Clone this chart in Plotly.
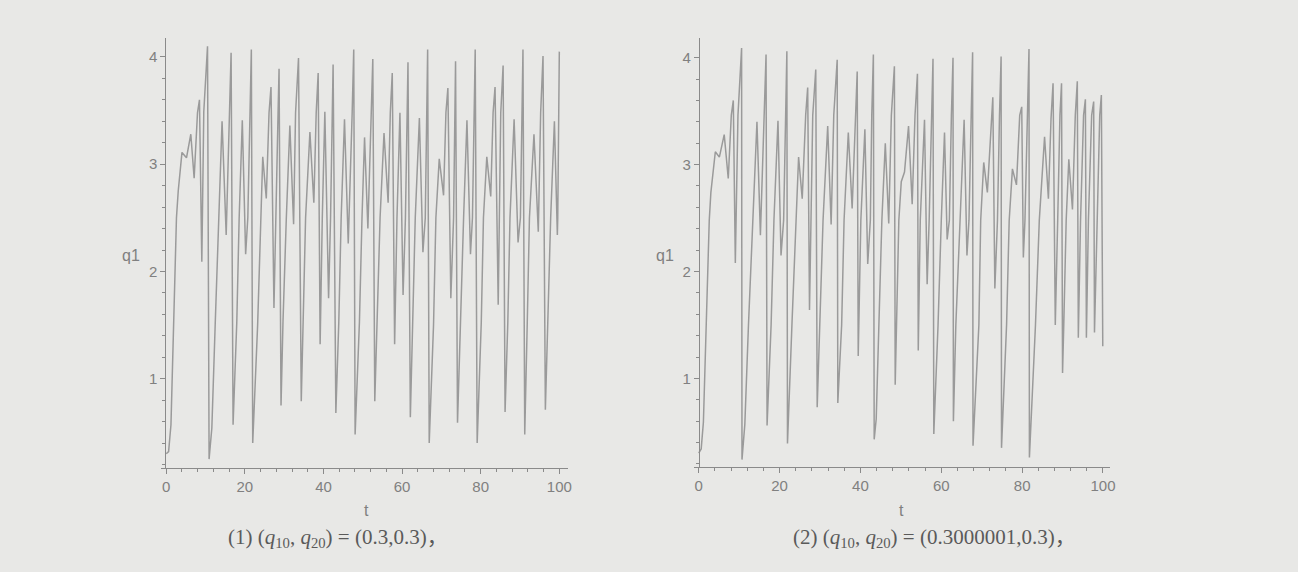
import plotly.graph_objects as go

# ---- data (t, q1) ----
t_left = [0.0, 0.6, 1.2, 1.8, 2.6, 3.05, 4.0, 5.15, 6.25, 7.1, 7.95, 8.45, 9.05, 9.55, 10.5, 10.9, 11.6, 12.45,
          13.45, 14.2, 15.25, 16.0, 16.5, 17.0, 17.95, 18.55, 19.35, 20.2, 20.75, 21.65, 22.0, 23.25, 24.55,
          25.45, 26.15, 26.65, 27.4, 28.45, 28.7, 29.2, 29.7, 30.55, 31.45, 32.4, 32.9, 33.65, 34.35, 35.45,
          36.55, 37.55, 38.15, 38.65, 39.15, 39.7, 40.35, 41.3, 41.8, 42.45, 43.15, 43.9, 44.5, 45.35, 46.3,
          47.3, 47.7, 48.05, 49.15, 49.8, 50.45, 51.3, 52.2, 52.55, 53.05, 53.65, 54.4, 55.4, 56.45, 57.0,
          57.5, 58.1, 58.7, 59.45, 60.25, 60.85, 61.5, 62.1, 62.7, 63.35, 64.4, 65.3, 65.9, 66.5, 66.9, 68.0,
          68.6, 69.45, 70.55, 71.15, 71.65, 72.4, 73.1, 73.6, 74.1, 74.8, 75.65, 76.5, 77.4, 77.9, 78.6, 79.1,
          80.15, 80.7, 81.55, 82.55, 83.15, 83.65, 84.45, 85.1, 85.7, 86.2, 86.9, 87.45, 88.5, 89.5, 90.1,
          90.75, 91.2, 91.85, 92.4, 93.55, 94.65, 95.25, 95.85, 96.45, 97.05, 97.8, 98.75, 99.5, 99.6, 100.0]
q_left = [0.30, 0.32, 0.57, 1.50, 2.50, 2.75, 3.11, 3.06, 3.28, 2.87, 3.48, 3.60, 2.09, 3.49, 4.10, 0.25, 0.54, 1.50,
          2.50, 3.40, 2.34, 3.48, 4.04, 0.57, 1.53, 2.50, 3.41, 2.16, 2.50, 4.07, 0.40, 1.50, 3.07,
          2.68, 3.48, 3.72, 1.66, 3.48, 3.89, 0.75, 1.53, 2.50, 3.36, 2.44, 3.48, 3.99, 0.79, 2.50,
          3.30, 2.64, 3.48, 3.85, 1.32, 2.50, 3.49, 1.75, 2.50, 3.93, 0.68, 1.53, 2.50, 3.42, 2.26,
          3.48, 4.07, 0.48, 1.53, 2.50, 3.25, 2.40, 3.48, 3.98, 0.79, 1.53, 2.50, 3.29, 2.64, 3.48,
          3.85, 1.32, 2.50, 3.48, 1.78, 2.50, 3.95, 0.64, 1.53, 2.50, 3.43, 2.18, 2.50, 4.07, 0.40, 1.50,
          2.50, 3.05, 2.71, 3.48, 3.71, 1.75, 2.50, 3.96, 0.59, 1.53, 2.50, 3.41, 2.16, 2.50, 4.07, 0.40,
          1.53, 2.50, 3.07, 2.70, 3.48, 3.72, 1.69, 3.48, 3.92, 0.69, 1.53, 2.50, 3.42, 2.27, 2.50,
          4.07, 0.48, 1.53, 2.50, 3.28, 2.37, 3.48, 4.01, 0.71, 1.53, 2.50, 3.40, 2.34, 2.50, 4.05]

t_right = [0.0, 0.6, 1.15, 1.85, 2.6, 3.0, 4.1, 5.1, 6.3, 7.3, 8.05, 8.55, 9.05, 9.7, 10.6, 10.7, 11.4, 12.3, 13.3,
           14.4, 15.25, 16.15, 16.65, 16.9, 17.9, 18.6, 19.6, 20.35, 21.0, 21.8, 21.95, 23.05, 24.7, 25.6,
           26.45, 26.95, 27.4, 28.2, 28.95, 29.3, 30.0, 30.75, 31.9, 32.75, 33.4, 34.25, 34.4, 35.35, 35.95,
           37.0, 37.95, 38.8, 39.2, 39.45, 40.1, 41.1, 41.8, 42.45, 42.8, 43.2, 43.4, 43.9, 44.55, 45.3,
           46.15, 47.0, 47.65, 48.4, 48.6, 48.9, 49.5, 50.1, 50.9, 51.9, 52.8, 53.5, 54.1, 54.3, 54.8,
           55.85, 56.5, 57.0, 57.55, 57.95, 58.15, 59.2, 60.0, 60.8, 61.45, 62.0, 62.5, 62.9, 63.0, 63.6,
           64.65, 65.65, 66.35, 66.85, 67.4, 67.75, 67.85, 69.3, 69.75, 70.5, 71.4, 72.35, 72.75, 73.25,
           73.9, 74.4, 74.8, 74.9, 76.15, 76.8, 77.6, 78.6, 79.4, 79.9, 80.3, 80.7, 81.25, 81.7, 81.8,
           83.3, 84.25, 85.55, 86.5, 87.15, 87.65, 88.2, 88.8, 89.35, 89.75, 90.0, 90.3, 90.9, 91.55,
           92.45, 93.15, 93.65, 93.9, 94.45, 95.2, 95.65, 95.9, 96.4, 97.2, 97.7, 97.9, 98.5, 99.2, 99.6, 99.95]
q_right = [0.30, 0.34, 0.59, 1.50, 2.48, 2.74, 3.12, 3.07, 3.28, 2.87, 3.46, 3.60, 2.08, 3.46, 4.09, 0.24, 0.57, 1.50, 2.48,
           3.40, 2.34, 3.46, 4.03, 0.56, 1.50, 2.48, 3.41, 2.15, 2.48, 4.06, 0.39, 1.50, 3.07, 2.68,
           3.46, 3.72, 1.64, 3.46, 3.89, 0.73, 1.50, 2.48, 3.36, 2.44, 3.46, 3.98, 0.77, 1.50, 2.48,
           3.30, 2.59, 3.46, 3.87, 1.21, 2.48, 3.33, 2.07, 2.48, 3.46, 4.03, 0.43, 0.62, 1.50, 2.48,
           3.20, 2.45, 3.46, 3.92, 0.94, 1.50, 2.48, 2.84, 2.93, 3.36, 2.63, 3.46, 3.85, 1.26, 2.48,
           3.42, 1.88, 2.48, 3.46, 3.99, 0.48, 1.50, 2.48, 3.30, 2.30, 2.48, 3.46, 4.00, 0.60, 1.50,
           2.48, 3.42, 2.15, 2.48, 3.46, 4.05, 0.37, 1.50, 2.48, 3.02, 2.74, 3.46, 3.63, 1.84,
           2.48, 3.46, 4.01, 0.35, 1.50, 2.48, 2.96, 2.81, 3.46, 3.54, 2.13, 2.48, 3.46, 4.08, 0.26,
           1.50, 2.48, 3.26, 2.68, 3.43, 3.76, 1.50, 2.48, 3.46, 3.76, 1.05, 1.50, 2.48, 3.05,
           2.58, 3.46, 3.78, 1.38, 2.48, 3.46, 3.61, 1.38, 2.48, 3.46, 3.59, 1.43, 2.48, 3.46, 3.65, 1.30]

x_ticks = [0, 20, 40, 60, 80, 100]
y_ticks = [1, 2, 3, 4]
caption_left = "(1) (<i>q</i><sub>10</sub>, <i>q</i><sub>20</sub>) = (0.3,0.3)，"
caption_right = "(2) (<i>q</i><sub>10</sub>, <i>q</i><sub>20</sub>) = (0.3000001,0.3)，"

W, H = 1298, 572
BG = "#e8e8e6"
LINE = "#9a9a9a"
AX = "#8a8a8a"
TXT = "#808080"

def px(x):
    return x / W

def py(y):
    return 1 - y / H

fig = go.Figure()
fig.add_trace(go.Scatter(x=t_left, y=q_left, mode="lines", line=dict(color=LINE, width=1.5),
                         xaxis="x", yaxis="y", showlegend=False, hoverinfo="skip"))
fig.add_trace(go.Scatter(x=t_right, y=q_right, mode="lines", line=dict(color=LINE, width=1.5),
                         xaxis="x2", yaxis="y2", showlegend=False, hoverinfo="skip"))

tickfont = dict(family="Liberation Sans, Arial, sans-serif", size=15, color=TXT)

def xax(domain, rng, anchor):
    return dict(domain=domain, range=rng, anchor=anchor, showgrid=False, zeroline=False,
                showline=True, linecolor=AX, linewidth=1, ticks="outside", ticklen=5,
                tickcolor=AX, tickwidth=1, tickvals=x_ticks, tickfont=tickfont,
                minor=dict(dtick=4, tick0=0, ticks="outside", ticklen=3, tickcolor=AX, showgrid=False))

def yax(domain, rng, pos):
    return dict(domain=domain, range=rng, anchor="free", position=pos, showgrid=False, zeroline=False,
                showline=True, linecolor=AX, linewidth=1, ticks="outside", ticklen=5,
                tickcolor=AX, tickwidth=1, tickvals=y_ticks, tickfont=tickfont,
                minor=dict(dtick=0.2, tick0=0, ticks="outside", ticklen=3, tickcolor=AX, showgrid=False))

fig.update_layout(
    width=W, height=H,
    margin=dict(l=0, r=0, t=0, b=0),
    paper_bgcolor=BG, plot_bgcolor=BG,
    xaxis=xax([px(162), px(571)], [-1.27, 102.3], "y"),
    yaxis=yax([py(468), py(38)], [0.167, 4.177], px(166)),
    xaxis2=xax([px(697), px(1115)], [-1.23, 101.7], "y2"),
    yaxis2=yax([py(467), py(38)], [0.171, 4.184], px(702)),
)

lab = dict(family="Liberation Sans, Arial, sans-serif", size=16, color=TXT)
cap = dict(family="Liberation Serif, Noto Sans CJK SC, serif", size=21, color="#5a5a5a")
for x, y, text, f in [
    (132, 255, "q1", lab), (668, 255, "q1", lab),
    (368, 510, "t", lab), (906, 510, "t", lab),
    (340, 538, caption_left, cap), (939, 538, caption_right, cap),
]:
    fig.add_annotation(x=px(x), y=py(y), xref="paper", yref="paper", text=text, showarrow=False,
                       font=f, xanchor="center", yanchor="middle")

fig.write_html("out.html", config={"displayModeBar": False},
               post_script="document.body.style.margin='0';document.body.style.background='" + BG + "';")
